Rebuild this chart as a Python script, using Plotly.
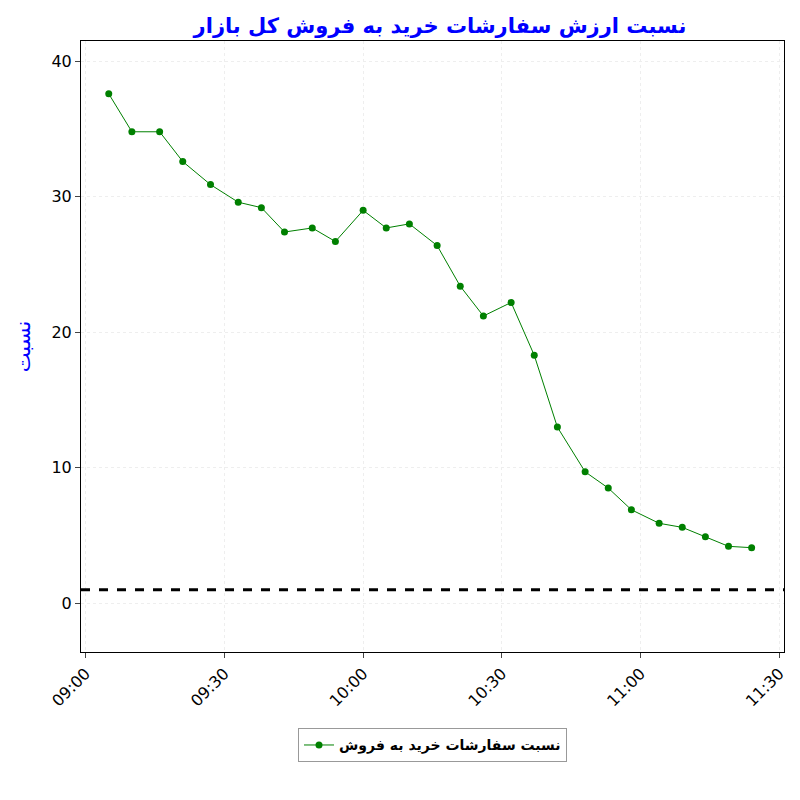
import plotly.graph_objects as go

times = ["09:05", "09:10", "09:16", "09:21", "09:27", "09:33", "09:38", "09:43", "09:49",
         "09:54", "10:00", "10:05", "10:10", "10:16", "10:21", "10:26", "10:32", "10:37",
         "10:42", "10:48", "10:53", "10:58", "11:04", "11:09", "11:14", "11:19", "11:24"]
ratio = [37.6, 34.8, 34.8, 32.6, 30.9, 29.6, 29.2, 27.4, 27.7, 26.7, 29.0, 27.7, 28.0,
         26.4, 23.4, 21.2, 22.2, 18.3, 13.0, 9.7, 8.5, 6.9, 5.9, 5.6, 4.9, 4.2, 4.1]
threshold = 1
x = ["2024-01-01 " + t for t in times]

fig = go.Figure()
fig.add_trace(go.Scatter(
    x=x, y=ratio, mode="lines+markers", name="<b>نسبت سفارشات خرید به فروش</b>",
    line=dict(color="green", width=1), marker=dict(color="green", size=7),
    showlegend=True,
))
fig.add_hline(y=threshold, line=dict(color="black", width=3, dash="dash"))

fig.update_layout(
    width=800, height=800, plot_bgcolor="white", paper_bgcolor="white",
    font=dict(family="DejaVu Sans", size=16, color="black"),
    title=dict(text="<b>نسبت ارزش سفارشات خرید به فروش کل بازار</b>", x=0.54,
               yref="container", y=0.978, yanchor="middle",
               font=dict(color="blue", size=21)),
    margin=dict(l=73, r=24, t=33, b=156),
    showlegend=True,
    legend=dict(orientation="h", x=0.5, xanchor="center", y=-0.125, yanchor="top",
                bordercolor="#999", borderwidth=1, font=dict(size=14)),
)
fig.update_xaxes(
    type="date", range=["2024-01-01 08:59", "2024-01-01 11:31"],
    tickvals=["2024-01-01 09:00", "2024-01-01 09:30", "2024-01-01 10:00",
              "2024-01-01 10:30", "2024-01-01 11:00", "2024-01-01 11:30"],
    tickformat="%H:%M", tickangle=-45, showline=True, mirror=True, linecolor="black",
    ticks="outside", showgrid=True, gridcolor="#eee", griddash="dot",
)
fig.update_yaxes(
    range=[-3.6, 41.5], tickvals=[0, 10, 20, 30, 40], showline=True, mirror=True,
    linecolor="black", ticks="outside", showgrid=True, gridcolor="#eee", griddash="dot",
    zeroline=False, title=dict(text="نسبت", font=dict(color="blue", size=21)),
)
fig.write_html("out.html")
